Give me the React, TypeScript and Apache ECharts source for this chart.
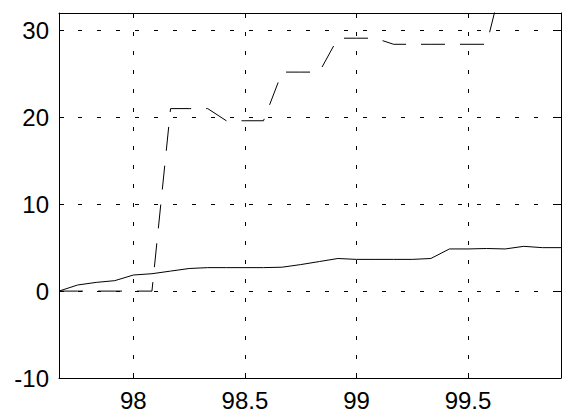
import React, { useEffect, useRef } from "react";
import * as echarts from "echarts";

const xValues = [
  97.6667, 97.75, 97.8333, 97.9167, 98.0, 98.0833, 98.1667, 98.25, 98.3333, 98.4167,
  98.5, 98.5833, 98.6667, 98.75, 98.8333, 98.9167, 99.0, 99.0833, 99.1667, 99.25,
  99.3333, 99.4167, 99.5, 99.5833, 99.6667, 99.75, 99.8333, 99.9167,
];
const solidValues = [
  0, 0.7, 1.0, 1.2, 1.85, 2.0, 2.3, 2.6, 2.7, 2.7,
  2.7, 2.7, 2.75, 3.05, 3.4, 3.75, 3.65, 3.65, 3.65, 3.65,
  3.75, 4.85, 4.85, 4.9, 4.85, 5.15, 5.0, 5.0,
];
const dashedValues = [
  0, 0, 0, 0, 0, 0, 21, 21, 21, 19.6,
  19.6, 19.6, 25.2, 25.2, 25.2, 29.1, 29.1, 29.1, 28.4, 28.4,
  28.4, 28.4, 28.4, 28.4, 37, 38, 38, 38,
];
const xMin = 97.6667;
const xMax = 99.9167;
const yMin = -10;
const yMax = 32;

export default function App() {
  const ref = useRef<HTMLDivElement>(null);
  useEffect(() => {
    document.body.style.margin = "0";
    const chart = echarts.init(ref.current!, undefined, { renderer: "svg" });
    const font = "Liberation Sans";
    const gridLine = { show: true, lineStyle: { color: "#000", width: 1, type: [4, 15] as any } };
    const axisLine = { show: true, onZero: false, lineStyle: { color: "#000", width: 1 } };
    const tick = { show: true, inside: true, length: 5, lineStyle: { color: "#000", width: 1 } };
    chart.setOption({
      animation: false,
      backgroundColor: "#fff",
      grid: { left: 59, top: 13, right: 2, bottom: 38, containLabel: false },
      xAxis: [
        {
          type: "value",
          min: xMin,
          max: xMax,
          splitNumber: 5,
          position: "bottom",
          axisLine,
          axisTick: tick,
          splitLine: gridLine,
          axisLabel: {
            fontFamily: font,
            fontSize: 24,
            color: "#000",
            margin: 10,
            showMinLabel: false,
            showMaxLabel: false,
          },
        },
        {
          type: "value",
          min: xMin,
          max: xMax,
          splitNumber: 5,
          position: "top",
          axisLine,
          axisTick: tick,
          splitLine: { show: false },
          axisLabel: { show: false },
        },
      ],
      yAxis: [
        {
          type: "value",
          min: yMin,
          max: yMax,
          interval: 10,
          position: "left",
          axisLine,
          axisTick: tick,
          splitLine: gridLine,
          axisLabel: {
            fontFamily: font,
            fontSize: 24,
            color: "#000",
            margin: 10,
            showMaxLabel: false,
          },
        },
        {
          type: "value",
          min: yMin,
          max: yMax,
          interval: 10,
          position: "right",
          axisLine,
          axisTick: tick,
          splitLine: { show: false },
          axisLabel: { show: false },
        },
      ],
      series: [
        {
          type: "line",
          data: xValues.map((x, i) => [x, solidValues[i]]),
          showSymbol: false,
          lineStyle: { color: "#000", width: 1 },
          clip: true,
        },
        {
          type: "line",
          data: xValues.map((x, i) => [x, dashedValues[i]]),
          showSymbol: false,
          lineStyle: { color: "#000", width: 1, type: [24, 15] as any },
          clip: true,
        },
      ],
    });
    return () => chart.dispose();
  }, []);
  return <div ref={ref} style={{ width: 563, height: 416 }} />;
}
